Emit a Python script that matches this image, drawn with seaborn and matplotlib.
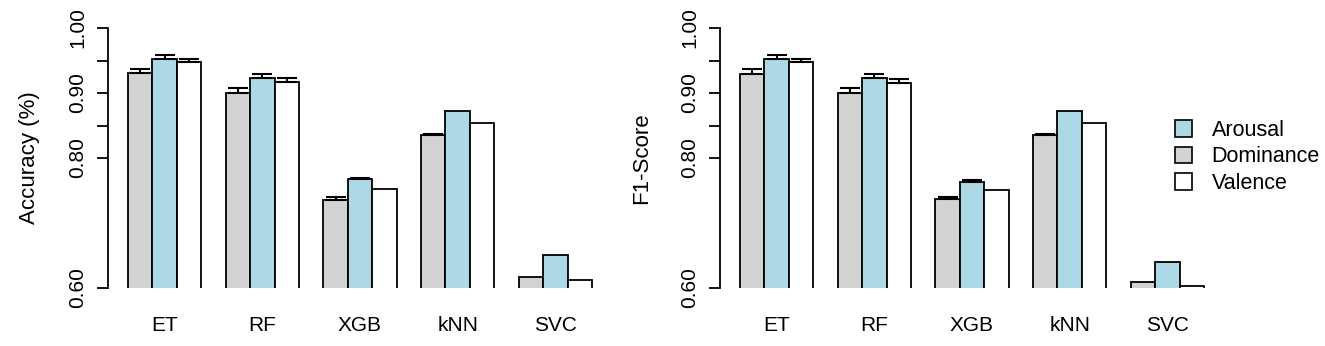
import pandas as pd
import matplotlib
matplotlib.use('Agg')
import matplotlib.pyplot as plt
import seaborn as sns
from matplotlib.patches import Patch

models = ['ET', 'RF', 'XGB', 'kNN', 'SVC']
emotions = ['Dominance', 'Arousal', 'Valence']
colors = {'Arousal': '#ADD8E6', 'Dominance': '#D3D3D3', 'Valence': '#FFFFFF'}

# accuracy (left panel)
acc_dominance = [0.931, 0.9005, 0.7354, 0.8354, 0.6164]
acc_arousal = [0.952, 0.9226, 0.7672, 0.8723, 0.6508]
acc_valence = [0.947, 0.9164, 0.7523, 0.8543, 0.6123]
acc_err_dominance = [0.0066, 0.0077, 0.004, 0.001, 0.0]
acc_err_arousal = [0.007, 0.007, 0.0025, 0.0, 0.0]
acc_err_valence = [0.0055, 0.006, 0.0, 0.0, 0.0]

# f1-score (right panel)
f1_dominance = [0.929, 0.9005, 0.737, 0.8354, 0.6087]
f1_arousal = [0.953, 0.923, 0.7635, 0.8728, 0.6405]
f1_valence = [0.947, 0.916, 0.7508, 0.8543, 0.6025]
f1_err_dominance = [0.0085, 0.007, 0.003, 0.0008, 0.0]
f1_err_arousal = [0.005, 0.007, 0.0025, 0.0, 0.0]
f1_err_valence = [0.005, 0.0057, 0.0, 0.0, 0.0]

ytick_vals = [0.60, 0.80, 0.85, 0.90, 0.95, 1.00]
ytick_labels = ['0.60', '0.80', '', '0.90', '', '1.00']

plt.rcParams['font.family'] = ['Liberation Sans', 'DejaVu Sans']

def make_df(dom, aro, val):
    rows = []
    for name, vals in zip(['Dominance', 'Arousal', 'Valence'], [dom, aro, val]):
        for m, v in zip(models, vals):
            rows.append({'model': m, 'emotion': name, 'value': v})
    return pd.DataFrame(rows)

def draw(ax, df, errs, ylabel):
    sns.barplot(data=df, x='model', y='value', hue='emotion', hue_order=emotions,
                palette=colors, saturation=1, width=0.75, gap=0, edgecolor='black',
                linewidth=1.3, errorbar=None, legend=False, ax=ax, order=models)
    for cont, emo in zip(ax.containers, emotions):
        for bar, e in zip(cont, errs[emo]):
            if e <= 0:
                continue
            xc = bar.get_x() + bar.get_width() / 2
            h = bar.get_height()
            ax.errorbar(xc, h, yerr=[[0], [e]], fmt='none', ecolor='black',
                        elinewidth=1.5, capsize=7.2, capthick=1.5, clip_on=False)
    ax.set_xlim(-0.58, 4.58)
    ax.set_ylim(0.6, 1.0)
    for s in ['top', 'right', 'bottom']:
        ax.spines[s].set_visible(False)
    ax.spines['left'].set_linewidth(1.3)
    ax.set_yticks(ytick_vals)
    ax.set_yticklabels(ytick_labels, rotation=90, va='center', fontsize=15)
    ax.tick_params(axis='y', length=8, width=1.3, pad=7)
    ax.tick_params(axis='x', length=0, pad=20, labelsize=15)
    ax.set_xlabel('')
    ax.set_ylabel(ylabel, fontsize=16, labelpad=20)

fig = plt.figure(figsize=(13.25, 3.46), dpi=100)
ax1 = fig.add_axes([108 / 1325, 58 / 346, 504 / 1325, 260 / 346])
ax2 = fig.add_axes([720 / 1325, 58 / 346, 504 / 1325, 260 / 346])

draw(ax1, make_df(acc_dominance, acc_arousal, acc_valence),
     {'Dominance': acc_err_dominance, 'Arousal': acc_err_arousal, 'Valence': acc_err_valence},
     'Accuracy (%)')
draw(ax2, make_df(f1_dominance, f1_arousal, f1_valence),
     {'Dominance': f1_err_dominance, 'Arousal': f1_err_arousal, 'Valence': f1_err_valence},
     'F1-Score')

handles = [Patch(facecolor=colors[e], edgecolor='black', linewidth=1.2)
           for e in ['Arousal', 'Dominance', 'Valence']]
fig.legend(handles, ['Arousal', 'Dominance', 'Valence'], loc='center left',
           bbox_to_anchor=(1175 / 1325, 1 - 157 / 346), frameon=False,
           fontsize=15.5, handlelength=0.8, handleheight=0.8, handletextpad=0.9,
           labelspacing=0.25, borderpad=0, borderaxespad=0)

fig.savefig('out.png', dpi=100)
